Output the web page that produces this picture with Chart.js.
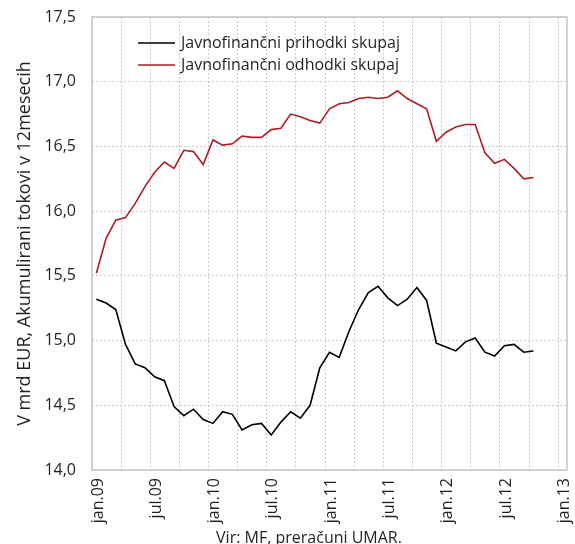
<!DOCTYPE html>
<html>
<head>
<meta charset="utf-8">
<script src="https://cdn.jsdelivr.net/npm/chart.js@4.4.0/dist/chart.umd.min.js"></script>
<style>
  html, body { margin: 0; padding: 0; background: #fff; }
</style>
</head>
<body>
<canvas id="chart-line" width="575" height="544"></canvas>
<script>
//TICK LABELS (every 6 months, jan.09 .. jan.13)
var tickLabels = ["jan.09", "jul.09", "jan.10", "jul.10", "jan.11", "jul.11", "jan.12", "jul.12", "jan.13"];

//SERIES LABELS
var seriesNames = ["Javnofinančni prihodki skupaj", "Javnofinančni odhodki skupaj"];

//MONTHLY DATA jan.09 .. okt.12 (bn EUR, 12-month rolling)
var prihodki = [
  15.32, 15.29, 15.24, 14.97, 14.82, 14.79, 14.72, 14.69, 14.49, 14.42, 14.47, 14.39,
  14.36, 14.45, 14.43, 14.31, 14.35, 14.36, 14.27, 14.37, 14.45, 14.40, 14.50, 14.79,
  14.91, 14.87, 15.07, 15.24, 15.37, 15.42, 15.33, 15.27, 15.32, 15.41, 15.31, 14.98,
  14.95, 14.92, 14.99, 15.02, 14.91, 14.88, 14.96, 14.97, 14.91, 14.92
];
var odhodki = [
  15.52, 15.79, 15.93, 15.95, 16.06, 16.19, 16.30, 16.38, 16.33, 16.47, 16.46, 16.36,
  16.55, 16.51, 16.52, 16.58, 16.57, 16.57, 16.63, 16.64, 16.75, 16.73, 16.70, 16.68,
  16.79, 16.83, 16.84, 16.87, 16.88, 16.87, 16.88, 16.93, 16.87, 16.83, 16.79, 16.54,
  16.61, 16.65, 16.67, 16.67, 16.45, 16.37, 16.40, 16.33, 16.25, 16.26
];

var FONT = '"Open Sans", sans-serif';
var TEXT = "#231f20";

//points sit in the middle of each month
function toPoints(arr) {
  return arr.map(function (v, i) { return { x: i + 0.45, y: v }; });
}

//LEGEND, FRAME AND SOURCE NOTE
var extras = {
  id: "extras",
  afterDraw: function (chart) {
    var ctx = chart.ctx, a = chart.chartArea;
    ctx.save();
    ctx.strokeStyle = "#c4c4c4";
    ctx.lineWidth = 1.5;
    ctx.strokeRect(a.left, a.top, a.right - a.left, a.bottom - a.top);

    ctx.font = "16px " + FONT;
    ctx.textBaseline = "middle";
    chart.data.datasets.forEach(function (ds, i) {
      var y = 43 + i * 22;
      ctx.strokeStyle = ds.borderColor;
      ctx.lineWidth = 1.6;
      ctx.beginPath();
      ctx.moveTo(138, y);
      ctx.lineTo(175, y);
      ctx.stroke();
      ctx.fillStyle = TEXT;
      ctx.fillText(ds.label, 181, y);
    });

    ctx.textAlign = "center";
    ctx.fillText("Vir: MF, preračuni UMAR.", 309, 538);
    ctx.restore();
  }
};

var config = {
  type: "line",
  data: {
    datasets: [
      {
        label: seriesNames[0],
        data: toPoints(prihodki),
        borderColor: "#000000",
        borderWidth: 1.6,
        pointRadius: 0,
        fill: false
      },
      {
        label: seriesNames[1],
        data: toPoints(odhodki),
        borderColor: "#ab1d25",
        borderWidth: 1.6,
        pointRadius: 0,
        fill: false
      }
    ]
  },
  options: {
    responsive: false,
    animation: false,
    layout: { padding: { left: 0, right: 8, top: 17, bottom: 0 } },
    plugins: {
      legend: { display: false },
      tooltip: { enabled: false }
    },
    scales: {
      x: {
        type: "linear",
        min: 0,
        max: 48.9,
        afterFit: function (s) {
          s.height = 74;
          s.paddingLeft = 0;
          s.paddingRight = 0;
        },
        grid: { color: "#c8c8c8", lineWidth: 1, drawTicks: false },
        border: { display: false, dash: [2, 2] },
        ticks: {
          stepSize: 3,
          includeBounds: false,
          autoSkip: false,
          maxRotation: 90,
          minRotation: 90,
          padding: 8,
          labelOffset: 6,
          color: TEXT,
          font: { family: FONT, size: 16 },
          callback: function (v) {
            return v % 6 === 0 ? tickLabels[v / 6] : "";
          }
        }
      },
      y: {
        min: 14,
        max: 17.5,
        afterFit: function (s) {
          s.width = 92;
          s.paddingTop = 0;
          s.paddingBottom = 0;
        },
        grid: { color: "#c8c8c8", lineWidth: 1, drawTicks: false },
        border: { display: false, dash: [2, 2] },
        ticks: {
          stepSize: 0.5,
          padding: 16,
          color: TEXT,
          font: { family: FONT, size: 16 },
          callback: function (v) { return v.toFixed(1).replace(".", ","); }
        },
        title: {
          display: true,
          text: "V mrd EUR, Akumulirani tokovi v 12mesecih",
          color: TEXT,
          font: { family: FONT, size: 18 },
          padding: { top: 14, bottom: 0 }
        }
      }
    }
  },
  plugins: [extras]
};

window.onload = function () {
  var ctx = document.getElementById("chart-line").getContext("2d");
  window.myLine = new Chart(ctx, config);
};
</script>
</body>
</html>
